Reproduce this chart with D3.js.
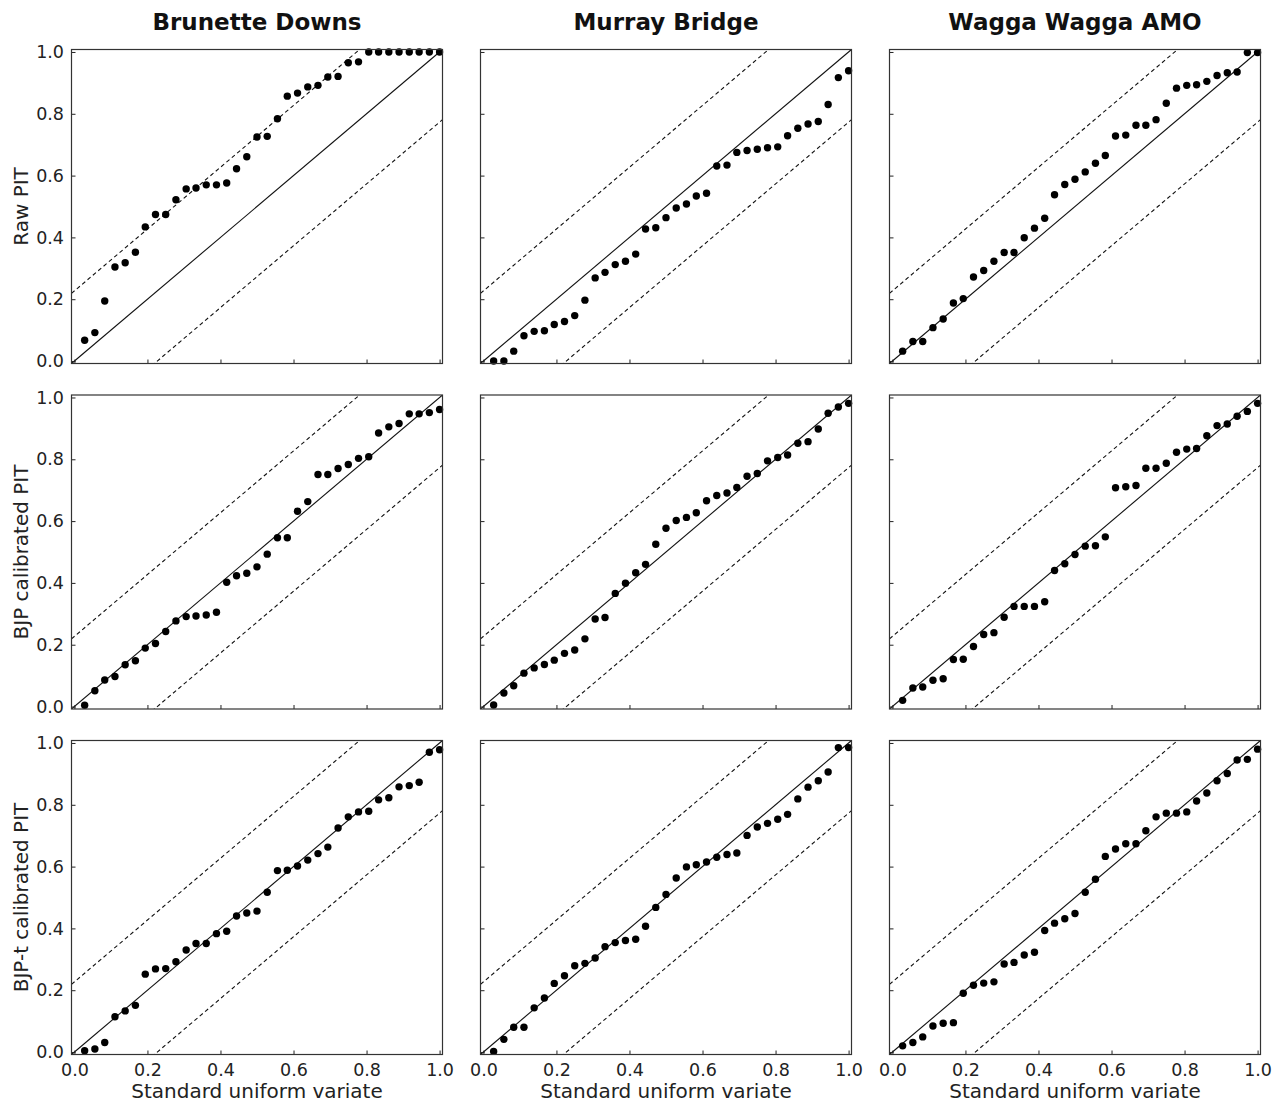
<!DOCTYPE html>
<html>
<head>
<meta charset="utf-8">
<script src="https://cdn.jsdelivr.net/npm/d3@7"></script>
<style>
  body { margin: 0; background: #fff; }
  svg { font-family: "DejaVu Sans", sans-serif; }
</style>
</head>
<body>
<svg class="chart"></svg>
<script>
// station names and row labels
const stations = ['Brunette Downs', 'Murray Bridge', 'Wagga Wagga AMO'];
const rowLabels = ['Raw PIT', 'BJP calibrated PIT', 'BJP-t calibrated PIT'];
const tickValues = [0.0, 0.2, 0.4, 0.6, 0.8, 1.0];
const ksBand = 0.227;

// plotting positions of the 36 events (standard uniform variate)
const uniformVariate = [0.028, 0.056, 0.083, 0.111, 0.139, 0.167, 0.194, 0.222, 0.25,
    0.278, 0.306, 0.333, 0.361, 0.389, 0.417, 0.444, 0.472, 0.5, 0.528, 0.556, 0.583,
    0.611, 0.639, 0.667, 0.694, 0.722, 0.75, 0.778, 0.806, 0.833, 0.861, 0.889, 0.917,
    0.944, 0.972, 1.0];

// sorted PIT values per panel
const rawBrunette = [0.067, 0.092, 0.194, 0.304, 0.318, 0.352, 0.434, 0.474, 0.474, 0.522,
    0.557, 0.560, 0.570, 0.570, 0.576, 0.622, 0.661, 0.725, 0.727, 0.784, 0.857, 0.867,
    0.887, 0.892, 0.919, 0.921, 0.965, 0.968, 1.0, 1.0, 1.0, 1.0, 1.0, 1.0, 1.0, 1.0];
const rawMurray = [0.0, 0.0, 0.032, 0.082, 0.096, 0.098, 0.118, 0.128, 0.147, 0.197,
    0.269, 0.287, 0.312, 0.323, 0.346, 0.427, 0.431, 0.464, 0.495, 0.508, 0.534, 0.543,
    0.631, 0.634, 0.675, 0.681, 0.685, 0.690, 0.693, 0.729, 0.753, 0.767, 0.775, 0.830,
    0.917, 0.939];
const rawWagga = [0.032, 0.063, 0.063, 0.108, 0.136, 0.188, 0.202, 0.272, 0.293, 0.323,
    0.351, 0.351, 0.399, 0.430, 0.462, 0.538, 0.571, 0.588, 0.612, 0.640, 0.665, 0.728,
    0.731, 0.763, 0.763, 0.781, 0.834, 0.883, 0.892, 0.894, 0.905, 0.924, 0.933, 0.935,
    0.998, 0.998];
const bjpBrunette = [0.004, 0.051, 0.086, 0.097, 0.135, 0.148, 0.189, 0.204, 0.243, 0.277,
    0.291, 0.293, 0.296, 0.305, 0.402, 0.423, 0.431, 0.452, 0.493, 0.546, 0.546, 0.632,
    0.663, 0.751, 0.751, 0.770, 0.783, 0.803, 0.808, 0.885, 0.905, 0.916, 0.947, 0.947,
    0.951, 0.961];
const bjpMurray = [0.005, 0.044, 0.067, 0.108, 0.125, 0.136, 0.150, 0.172, 0.183, 0.219,
    0.283, 0.288, 0.366, 0.399, 0.433, 0.460, 0.525, 0.577, 0.602, 0.612, 0.627, 0.666,
    0.683, 0.691, 0.709, 0.745, 0.754, 0.795, 0.806, 0.814, 0.852, 0.857, 0.898, 0.949,
    0.969, 0.981];
const bjpWagga = [0.020, 0.060, 0.063, 0.085, 0.090, 0.152, 0.153, 0.194, 0.233, 0.239,
    0.289, 0.324, 0.324, 0.324, 0.339, 0.440, 0.462, 0.492, 0.519, 0.520, 0.549, 0.708,
    0.711, 0.715, 0.771, 0.771, 0.787, 0.823, 0.833, 0.835, 0.876, 0.909, 0.914, 0.939,
    0.955, 0.981];
const bjptBrunette = [0.004, 0.010, 0.031, 0.114, 0.133, 0.151, 0.252, 0.269, 0.270, 0.292,
    0.330, 0.351, 0.351, 0.383, 0.391, 0.440, 0.450, 0.456, 0.517, 0.587, 0.588, 0.602,
    0.621, 0.642, 0.663, 0.725, 0.761, 0.777, 0.779, 0.816, 0.823, 0.858, 0.862, 0.873,
    0.970, 0.978];
const bjptMurray = [0.002, 0.041, 0.080, 0.080, 0.143, 0.175, 0.222, 0.247, 0.279, 0.287,
    0.304, 0.341, 0.354, 0.361, 0.365, 0.407, 0.468, 0.510, 0.563, 0.599, 0.606, 0.615,
    0.630, 0.639, 0.644, 0.701, 0.728, 0.740, 0.753, 0.769, 0.819, 0.857, 0.878, 0.906,
    0.985, 0.985];
const bjptWagga = [0.020, 0.031, 0.049, 0.084, 0.093, 0.095, 0.190, 0.216, 0.223, 0.227,
    0.285, 0.290, 0.314, 0.323, 0.393, 0.417, 0.431, 0.448, 0.517, 0.559, 0.633, 0.657,
    0.674, 0.674, 0.716, 0.761, 0.773, 0.773, 0.777, 0.812, 0.838, 0.878, 0.901, 0.945,
    0.947, 0.980];

const panelSeries = [
    [rawBrunette, rawMurray, rawWagga],
    [bjpBrunette, bjpMurray, bjpWagga],
    [bjptBrunette, bjptMurray, bjptWagga],
];

const width = 1283, height = 1105;
const panelW = 371, panelH = 314;
const colLeft = [71.5, 480.5, 889.5];
const rowTop = [49.5, 395, 740.5];

const svg = d3.select('.chart')
    .attr('width', width)
    .attr('height', height);

const xScale = d3.scaleLinear().domain([-0.008, 1.008]).range([0, panelW]);
const yScale = d3.scaleLinear().domain([-0.008, 1.008]).range([panelH, 0]);

svg.append('defs').append('clipPath')
    .attr('id', 'panel-clip')
    .append('rect')
    .attr('width', panelW)
    .attr('height', panelH);

const diag = d3.line().x(d => xScale(d[0])).y(d => yScale(d[1]));
const ends = [-0.008, 1.008];

panelSeries.forEach((row, r) => {
    row.forEach((values, c) => {
        const g = svg.append('g')
            .attr('transform', `translate(${colLeft[c]}, ${rowTop[r]})`);

        const lines = g.append('g').attr('clip-path', 'url(#panel-clip)');
        lines.append('path')
            .attr('d', diag(ends.map(v => [v, v])))
            .attr('fill', 'none').attr('stroke', '#111').attr('stroke-width', 1.1);
        [ksBand, -ksBand].forEach(off => {
            lines.append('path')
                .attr('d', diag(ends.map(v => [v, v + off])))
                .attr('fill', 'none').attr('stroke', '#111').attr('stroke-width', 1.1)
                .attr('stroke-dasharray', '4,3');
        });

        g.selectAll('.dot')
            .data(values)
            .enter()
            .append('circle')
            .classed('dot', true)
            .attr('cx', (d, i) => xScale(uniformVariate[i]))
            .attr('cy', d => yScale(d))
            .attr('r', 3.7)
            .attr('fill', '#000');

        const yAxis = g.append('g')
            .call(d3.axisLeft(yScale).tickValues(tickValues).tickSize(-4)
                .tickPadding(7.5)
                .tickFormat(c === 0 ? d3.format('.1f') : () => ''));
        const xAxis = g.append('g')
            .attr('transform', `translate(0, ${panelH})`)
            .call(d3.axisBottom(xScale).tickValues(tickValues).tickSize(-4)
                .tickPadding(9)
                .tickFormat(r === 2 ? d3.format('.1f') : () => ''));
        [yAxis, xAxis].forEach(a => {
            a.select('.domain').remove();
            a.selectAll('line').attr('stroke', '#222');
            a.selectAll('text').attr('font-size', 17.5)
                .attr('fill', '#222').attr('font-family', '"DejaVu Sans", sans-serif');
        });

        g.append('rect')
            .attr('width', panelW).attr('height', panelH)
            .attr('fill', 'none').attr('stroke', '#333').attr('stroke-width', 1.2);
    });
});

// column titles
stations.forEach((name, c) => {
    svg.append('text')
        .attr('x', colLeft[c] + panelW / 2)
        .attr('y', 30)
        .attr('text-anchor', 'middle')
        .attr('font-size', 23)
        .attr('font-weight', 'bold')
        .attr('fill', '#111')
        .text(name);
});

// row labels
rowLabels.forEach((label, r) => {
    svg.append('text')
        .attr('transform', `translate(28, ${rowTop[r] + panelH / 2}) rotate(-90)`)
        .attr('text-anchor', 'middle')
        .attr('font-size', 20)
        .attr('fill', '#222')
        .text(label);
});

// x labels under bottom row
stations.forEach((name, c) => {
    svg.append('text')
        .attr('x', colLeft[c] + panelW / 2)
        .attr('y', 1098)
        .attr('text-anchor', 'middle')
        .attr('font-size', 20)
        .attr('fill', '#222')
        .text('Standard uniform variate');
});
</script>
</body>
</html>
